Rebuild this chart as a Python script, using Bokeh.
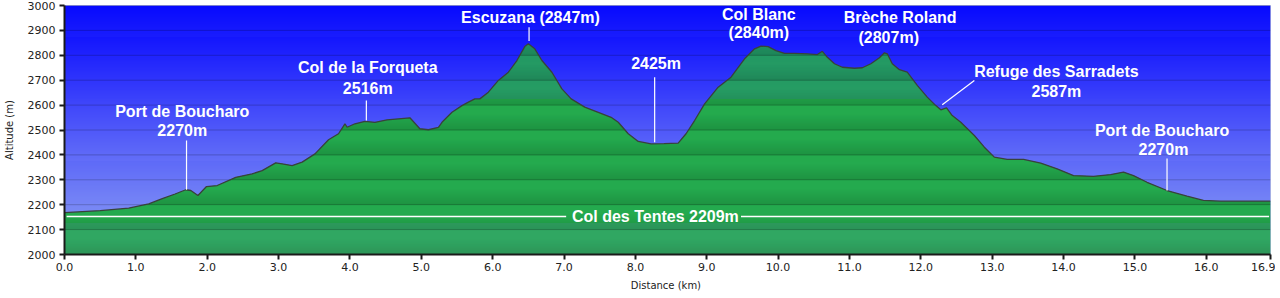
import numpy as np
from bokeh.plotting import figure
from bokeh.models import ColumnDataSource, FixedTicker, PrintfTickFormatter, Div
from bokeh.layouts import row
from bokeh.core.properties import value
from bokeh.embed import file_html
from bokeh.resources import INLINE

# ---- profile data (distance km, altitude m) ----
dist_km = [0.00, 0.50, 0.90, 1.18, 1.37, 1.55, 1.70, 1.77, 1.87, 1.99, 2.14, 2.40, 2.63, 2.77,
           2.96, 3.05, 3.19, 3.33, 3.51, 3.70, 3.84, 3.93, 3.96, 4.07, 4.21, 4.35, 4.52, 4.84,
           4.98, 5.10, 5.24, 5.29, 5.43, 5.57, 5.66, 5.75, 5.82, 5.94, 6.08, 6.22, 6.34, 6.45,
           6.50, 6.59, 6.69, 6.83, 6.97, 7.10, 7.29, 7.48, 7.66, 7.76, 7.90, 8.04, 8.22, 8.40,
           8.60, 8.71, 8.83, 8.97, 9.16, 9.34, 9.53, 9.67, 9.76, 9.86, 9.97, 10.09, 10.23, 10.41,
           10.55, 10.62, 10.69, 10.79, 10.90, 11.07, 11.18, 11.30, 11.42, 11.49, 11.53, 11.60,
           11.70, 11.81, 11.95, 12.09, 12.21, 12.28, 12.36, 12.44, 12.56, 12.75, 12.89, 13.03,
           13.21, 13.44, 13.68, 13.91, 14.14, 14.42, 14.66, 14.84, 14.98, 15.17, 15.45, 15.73,
           15.96, 16.20, 16.52, 16.90]
elev_m = [2168, 2176, 2186, 2203, 2224, 2243, 2260, 2257, 2237, 2273, 2277, 2310, 2324, 2337,
          2368, 2364, 2357, 2371, 2404, 2461, 2485, 2525, 2511, 2525, 2535, 2531, 2541, 2549,
          2505, 2501, 2511, 2531, 2571, 2598, 2612, 2625, 2625, 2652, 2699, 2732, 2779, 2835,
          2846, 2826, 2779, 2732, 2665, 2625, 2592, 2571, 2551, 2531, 2485, 2454, 2444, 2445,
          2447, 2485, 2538, 2605, 2672, 2712, 2786, 2826, 2837, 2835, 2819, 2808, 2808, 2806,
          2803, 2816, 2792, 2766, 2752, 2748, 2750, 2766, 2790, 2810, 2806, 2766,
          2742, 2732, 2679, 2632, 2598, 2581, 2589, 2558, 2531, 2478, 2431, 2391,
          2382, 2382, 2367, 2344, 2317, 2314, 2321, 2331, 2317, 2290, 2257, 2234,
          2217, 2214, 2214, 2214]

x_ticks = [0, 1, 2, 3, 4, 5, 6, 7, 8, 9, 10, 11, 12, 13, 14, 15, 16, 16.9]
y_ticks = [2000, 2100, 2200, 2300, 2400, 2500, 2600, 2700, 2800, 2900, 3000]

# ---- waypoint labels ----
label_text = ["Port de Boucharo", "2270m", "Col de la Forqueta", "2516m", "Escuzana (2847m)",
              "2425m", "Col Blanc", "(2840m)", "Brèche Roland", "(2807m)",
              "Refuge des Sarradets", "2587m", "Port de Boucharo", "2270m"]
label_x = [1.65, 1.65, 4.25, 4.25, 6.53, 8.29, 9.73, 9.73, 11.71, 11.55, 13.90, 13.90, 15.38, 15.40]
label_y = [2574, 2498, 2752, 2665, 2953, 2766, 2964, 2893, 2953, 2870, 2736, 2656, 2498, 2422]

leader_x0 = [1.71, 4.23, 6.51, 8.27, 12.75, 15.45]
leader_y0 = [2458, 2618, 2913, 2712, 2699, 2386]
leader_x1 = [1.71, 4.23, 6.51, 8.27, 12.30, 15.45]
leader_y1 = [2260, 2538, 2857, 2451, 2601, 2257]

ref_text = "Col des Tentes 2209m"
ref_alt = 2153
ref_text_x = 8.28
ref_line_x0 = [0.03, 9.48]
ref_line_x1 = [7.03, 16.88]

X0, X1 = 0.0, 16.9
Y0, Y1 = 2000, 3000

p = figure(width=1275, height=298, x_range=(X0, X1), y_range=(Y0, Y1),
           output_backend="svg", toolbar_location=None,
           min_border_left=62, min_border_right=5, min_border_top=5, min_border_bottom=44)
p.background_fill_color = "#4050f8"
p.border_fill_color = "white"
p.outline_line_color = "#b8c0dc"
p.outline_line_width = 1
p.xgrid.visible = False
p.ygrid.visible = False

# ---- sky gradient ----
step = 4.0
bands = np.arange(Y0, Y1, step)
def sky_col(a):
    t = (Y1 - a) / (Y1 - Y0)
    r = int(round(0 + 158 * t))
    g = int(round(0 + 176 * t))
    b = int(round(255 - 12 * t))
    return "#%02x%02x%02x" % (r, g, b)
sky_src = ColumnDataSource(dict(left=[X0] * len(bands), right=[X1] * len(bands),
                                bottom=list(bands), top=list(np.minimum(bands + step + 1, Y1)),
                                color=[sky_col(a + step / 2) for a in bands]))
p.quad(left="left", right="right", bottom="bottom", top="top", fill_color="color",
       line_color=None, source=sky_src)

# ---- green banded terrain ----
# add the exact points where the profile polyline crosses band levels (same geometry),
# so that clipping the polyline to each band is exact
levels = np.arange(Y0, Y1 + step, step)
ov = 1.0
all_levels = np.unique(np.concatenate([levels, levels - ov]))
rx, re_ = [dist_km[0]], [float(elev_m[0])]
for i in range(len(dist_km) - 1):
    xa, xb = dist_km[i], dist_km[i + 1]
    ea, eb = float(elev_m[i]), float(elev_m[i + 1])
    lo, hi = min(ea, eb), max(ea, eb)
    cross = all_levels[(all_levels > lo) & (all_levels < hi)]
    if len(cross):
        ts = np.sort((cross - ea) / (eb - ea))
        for t in ts:
            rx.append(xa + t * (xb - xa))
            re_.append(ea + t * (eb - ea))
    rx.append(xb)
    re_.append(eb)
d = np.array(rx)
e = np.array(re_)

dark = np.array([28, 140, 62])
light = np.array([36, 170, 78])
xs, ys, cols = [], [], []
for a in np.arange(Y0, e.max() + step, step):
    y1 = max(a - ov, Y0)
    top = np.clip(e, y1, a + step)
    if np.all(top <= y1):
        continue
    xs.append(list(d) + list(d[::-1]))
    ys.append(list(top) + [y1] * len(d))
    f = ((a + step / 2 - Y0) % 100) / 100.0
    w = min(1.0, 0.2 + f * 1.2)
    c = dark + (light - dark) * w
    cols.append("#%02x%02x%02x" % tuple(int(round(v)) for v in c))
p.patches(xs="xs", ys="ys", fill_color="cols", line_color=None,
          source=ColumnDataSource(dict(xs=xs, ys=ys, cols=cols)))

# ---- horizontal grid lines ----
p.segment(x0=[X0] * len(y_ticks), x1=[X1] * len(y_ticks), y0=y_ticks, y1=y_ticks,
          line_color="black", line_alpha=0.2, line_width=1)

# ---- profile outline ----
p.line(dist_km, elev_m, line_color="#38423a", line_width=1.3)

# ---- Col des Tentes reference line ----
p.segment(x0=ref_line_x0, x1=ref_line_x1, y0=[ref_alt] * 2, y1=[ref_alt] * 2,
          line_color="white", line_width=1.5)
p.text(x=[ref_text_x], y=[ref_alt], text=[ref_text], text_font=value("Liberation Sans"),
       text_font_style="bold", text_font_size="16px", text_color="white",
       text_align="center", text_baseline="middle")

# ---- leaders and labels ----
p.segment(x0=leader_x0, y0=leader_y0, x1=leader_x1, y1=leader_y1,
          line_color="white", line_width=1.2)
p.text(x="x", y="y", text="t", source=ColumnDataSource(dict(x=label_x, y=label_y, t=label_text)),
       text_font=value("Liberation Sans"), text_font_style="bold", text_font_size="16px",
       text_color="white", text_align="center", text_baseline="middle")

# ---- axes ----
p.xaxis.ticker = FixedTicker(ticks=x_ticks)
p.xaxis.formatter = PrintfTickFormatter(format="%.1f")
p.yaxis.ticker = FixedTicker(ticks=y_ticks)
for ax in (p.xaxis[0], p.yaxis[0]):
    ax.axis_line_color = "#1a1a1a"
    ax.axis_line_width = 2
    ax.major_tick_line_color = "#1a1a1a"
    ax.major_tick_line_width = 2
    ax.major_tick_out = 5
    ax.major_tick_in = 0
    ax.minor_tick_line_color = None
    ax.major_label_text_font = "DejaVu Sans"
    ax.major_label_text_font_size = "11px"
    ax.major_label_text_color = "#222222"
    ax.axis_label_text_font = "DejaVu Sans"
    ax.axis_label_text_font_size = "10px"
    ax.axis_label_text_font_style = "normal"
    ax.axis_label_text_color = "#222222"
p.xaxis.axis_label = "Distance  (km)"
p.yaxis.axis_label = "Altitude (m)"
p.xaxis.major_label_standoff = 3
p.xaxis.axis_label_standoff = 6
p.yaxis.major_label_standoff = 4
p.yaxis.axis_label_standoff = 10

strip = Div(width=5, height=298, styles={"background-color": "#eeeeee"})
layout = row(p, strip)

open("out.html", "w").write(file_html(layout, INLINE))
